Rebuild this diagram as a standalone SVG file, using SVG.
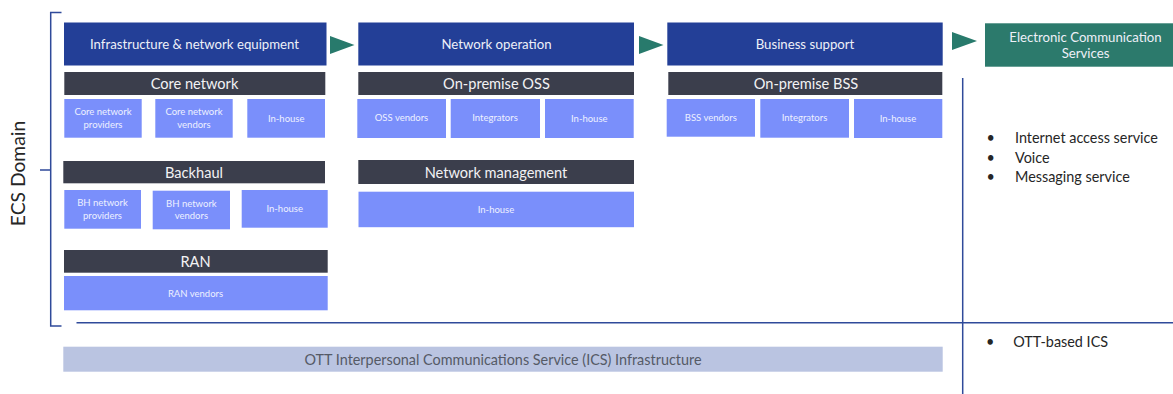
<svg xmlns="http://www.w3.org/2000/svg" width="1173" height="394" viewBox="0 0 1173 394">
  <style>
    text { font-family: Lato, "Open Sans", "Liberation Sans", sans-serif; text-anchor: middle; }
    .hdr { fill: #233f97; }
    .hdr-t { fill: #eef0f8; font-size: 13.2px; }
    .bar { fill: #3b3e4c; }
    .bar-t { fill: #f2f2f4; font-size: 14.6px; }
    .sub { fill: #7a8ffb; }
    .sub-t { fill: #eef1ff; font-size: 9.5px; }
    .ecs { fill: #2c7a6c; }
    .ott { fill: #bac4e1; }
    .ott-t { fill: #555a66; font-size: 14.4px; }
    .line { stroke: #2f4a9a; stroke-width: 1.5; fill: none; }
    .arrow { fill: #287a6c; }
    .bul { fill: #262626; font-size: 14.4px; text-anchor: start; }
  </style>

  <!-- connectors: flow arrows, domain bracket and dividers -->
  <g id="connectors">
    <polygon class="arrow" points="330,36 354.5,45 330,54"/>
    <polygon class="arrow" points="639,36 663.5,45 639,54"/>
    <polygon class="arrow" points="952,32 977,41 952,50"/>
    <path class="line" d="M61.5,12.5 H50.7 V326 H61.5 M40,170 H50.7"/>
    <path class="line" d="M76.5,322.7 H1173"/>
    <path class="line" d="M962.7,78 V394"/>
  </g>

  <!-- ECS domain label -->
  <g id="ecs-domain">
    <text transform="translate(25,173.5) rotate(-90)" style="font-size:19.3px; fill:#262626;">ECS Domain</text>
  </g>

  <!-- Infrastructure column -->
  <g id="infrastructure">
    <rect class="hdr" x="64" y="22.5" width="262.5" height="43"/>
    <text class="hdr-t" x="194.5" y="49.3">Infrastructure &amp; network equipment</text>
  </g>
  <g id="core-network">
    <rect class="bar" x="64.3" y="72" width="261" height="23"/>
    <text class="bar-t" x="194.5" y="89.3">Core network</text>
    <rect class="sub" x="64.3" y="99" width="77.4" height="38.7"/>
    <text class="sub-t" x="103" y="115">Core network</text>
    <text class="sub-t" x="103" y="128.3">providers</text>
    <rect class="sub" x="155.3" y="99" width="77.4" height="38.7"/>
    <text class="sub-t" x="194" y="115">Core network</text>
    <text class="sub-t" x="194" y="128.3">vendors</text>
    <rect class="sub" x="247.3" y="99" width="77.7" height="38.7"/>
    <text class="sub-t" x="286.2" y="121.5">In-house</text>
  </g>
  <g id="backhaul">
    <rect class="bar" x="63.3" y="161" width="261.7" height="22.3"/>
    <text class="bar-t" x="194" y="178.3">Backhaul</text>
    <rect class="sub" x="64.3" y="190" width="76.7" height="38.7"/>
    <text class="sub-t" x="102.5" y="206">BH network</text>
    <text class="sub-t" x="102.5" y="218.7">providers</text>
    <rect class="sub" x="152.7" y="190.7" width="77.3" height="38.6"/>
    <text class="sub-t" x="191.4" y="206.7">BH network</text>
    <text class="sub-t" x="191.4" y="219.3">vendors</text>
    <rect class="sub" x="241.7" y="190" width="86" height="37.7"/>
    <text class="sub-t" x="284.7" y="212">In-house</text>
  </g>
  <g id="ran">
    <rect class="bar" x="64" y="250" width="263.7" height="22.7"/>
    <text class="bar-t" x="195.5" y="267.3">RAN</text>
    <rect class="sub" x="64" y="276" width="263.7" height="34.3"/>
    <text class="sub-t" x="195.5" y="296.7">RAN vendors</text>
  </g>

  <!-- Network operation column -->
  <g id="network-operation">
    <rect class="hdr" x="358.3" y="22.5" width="275.7" height="43"/>
    <text class="hdr-t" x="496.5" y="49.3">Network operation</text>
  </g>
  <g id="on-premise-oss">
    <rect class="bar" x="358.3" y="72" width="275.7" height="23"/>
    <text class="bar-t" x="496.5" y="89.3">On-premise OSS</text>
    <rect class="sub" x="357.3" y="99" width="88.7" height="39"/>
    <text class="sub-t" x="401.5" y="121.3">OSS vendors</text>
    <rect class="sub" x="450.7" y="99" width="89.3" height="39"/>
    <text class="sub-t" x="495" y="121.3">Integrators</text>
    <rect class="sub" x="545" y="99" width="88.7" height="39"/>
    <text class="sub-t" x="589.3" y="121.8">In-house</text>
  </g>
  <g id="network-management">
    <rect class="bar" x="358.3" y="160" width="275.7" height="24"/>
    <text class="bar-t" x="496" y="178.3">Network management</text>
    <rect class="sub" x="358.5" y="191.7" width="275.5" height="35.5"/>
    <text class="sub-t" x="496" y="212.5">In-house</text>
  </g>

  <!-- Business support column -->
  <g id="business-support">
    <rect class="hdr" x="667.3" y="22.5" width="275.4" height="43"/>
    <text class="hdr-t" x="805" y="49.3">Business support</text>
  </g>
  <g id="on-premise-bss">
    <rect class="bar" x="668.3" y="72" width="274" height="23"/>
    <text class="bar-t" x="806" y="89.3">On-premise BSS</text>
    <rect class="sub" x="666.7" y="99" width="88.3" height="37.7"/>
    <text class="sub-t" x="710.8" y="121.3">BSS vendors</text>
    <rect class="sub" x="760.3" y="99" width="88.7" height="38.7"/>
    <text class="sub-t" x="804.5" y="121.3">Integrators</text>
    <rect class="sub" x="854" y="99" width="88.3" height="39"/>
    <text class="sub-t" x="898" y="121.8">In-house</text>
  </g>

  <!-- Electronic Communication Services -->
  <g id="ecs-services">
    <rect class="ecs" x="985" y="23.3" width="188" height="43.4"/>
    <text class="hdr-t" x="1085.5" y="41.8">Electronic Communication</text>
    <text class="hdr-t" x="1085.5" y="58.2">Services</text>
  </g>
  <g id="ecs-list">
    <text class="bul" x="986.5" y="143.3">•</text>
    <text class="bul" x="1015" y="143.3">Internet access service</text>
    <text class="bul" x="986.5" y="162.7">•</text>
    <text class="bul" x="1015" y="162.7">Voice</text>
    <text class="bul" x="986.5" y="181.7">•</text>
    <text class="bul" x="1015" y="181.7">Messaging service</text>
  </g>

  <!-- OTT interpersonal communications -->
  <g id="ott-infrastructure">
    <rect class="ott" x="63.3" y="346.7" width="879.4" height="25"/>
    <text class="ott-t" x="503" y="365">OTT Interpersonal Communications Service (ICS) Infrastructure</text>
  </g>
  <g id="ott-list">
    <text class="bul" x="986" y="346.7">•</text>
    <text class="bul" x="1013.3" y="346.7">OTT-based ICS</text>
  </g>
</svg>
